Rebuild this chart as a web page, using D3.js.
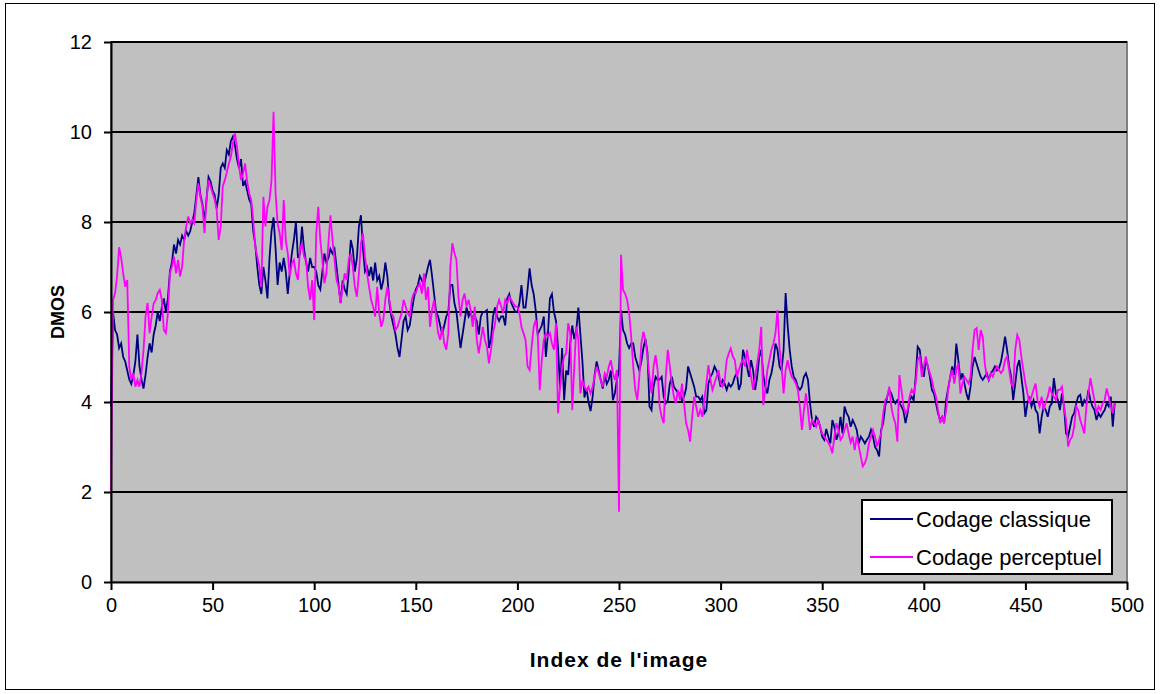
<!DOCTYPE html>
<html>
<head>
<meta charset="utf-8">
<script src="https://cdnjs.cloudflare.com/ajax/libs/d3/7.8.5/d3.min.js"></script>
<style>
  html, body { margin: 0; padding: 0; background: #fff; }
  svg { display: block; }
  text { font-family: "Liberation Sans", Arial, sans-serif; }
</style>
</head>
<body>
<svg id="chart" width="1161" height="694"></svg>
<script>
// ---- data ----
const yTicks = [0, 2, 4, 6, 8, 10, 12];
const xTicks = [0, 50, 100, 150, 200, 250, 300, 350, 400, 450, 500];
const seriesNames = ["Codage classique", "Codage perceptuel"];
const seriesColors = ["#000080", "#ff00ff"];

const classique = [
3.9,6.0,5.6,5.5,5.2,5.3,5.0,4.9,4.7,4.5,
4.4,4.6,4.9,5.5,4.8,4.5,4.3,4.6,5.0,5.3,
5.1,5.5,5.7,6.0,5.8,6.1,6.3,6.0,6.3,6.9,
7.1,7.5,7.3,7.6,7.5,7.7,7.6,7.8,7.7,7.8,
8.0,8.2,8.6,9.0,8.6,8.4,8.0,8.5,9.0,8.9,
8.7,8.6,8.3,8.6,9.2,9.3,9.2,9.6,9.5,9.8,
9.9,9.7,9.4,9.2,9.4,8.8,8.9,8.7,8.5,8.4,
7.8,7.5,7.0,6.6,6.4,7.0,6.7,6.3,7.2,7.8,
8.1,7.4,6.6,7.1,6.9,7.2,6.9,6.4,6.9,7.3,
7.6,8.0,7.2,7.3,7.9,7.4,7.1,6.9,7.2,7.0,
7.0,6.9,6.6,6.5,6.9,7.3,7.1,7.2,7.4,7.3,
7.4,7.0,6.6,6.2,6.7,6.5,6.4,6.9,7.6,7.4,
6.9,7.2,7.9,8.15,7.4,6.9,7.0,6.8,7.0,6.7,
7.1,6.7,6.8,6.5,6.7,7.1,6.8,6.2,5.9,5.7,
5.5,5.2,5.0,5.4,5.8,5.9,5.6,5.7,6.0,6.3,
6.5,6.6,6.8,6.7,6.6,6.8,7.0,7.16,6.8,6.4,
6.0,5.9,5.7,5.5,5.7,5.9,6.0,6.6,6.6,6.2,
6.0,5.6,5.2,5.5,5.8,6.1,5.9,6.0,5.8,5.9,
5.8,5.5,5.9,6.0,6.0,6.04,5.2,5.4,5.9,6.1,
5.9,5.8,5.9,5.9,5.7,6.3,6.4,6.2,6.1,6.0,
6.0,6.2,6.6,6.1,6.1,6.5,6.97,6.6,6.4,6.04,
5.5,5.6,5.7,5.9,5.0,5.5,6.3,6.4,6.0,5.8,
5.2,4.3,5.2,4.04,4.7,4.6,5.3,5.7,5.4,5.6,
6.1,5.5,4.9,4.1,4.3,4.0,3.8,4.1,4.6,4.9,
4.7,4.5,4.3,4.6,4.4,4.5,4.7,4.04,4.2,4.5,
4.7,6.04,5.6,5.5,5.3,5.2,5.3,5.3,5.0,4.85,
4.7,4.9,5.2,5.4,5.1,3.9,3.82,4.34,4.56,4.49,
4.5,4.56,4.12,3.97,4.04,4.4,4.56,4.34,4.27,4.2,
4.19,4.04,4.12,4.3,4.79,4.64,4.49,4.34,4.12,4.12,
4.04,4.12,3.75,3.82,4.41,4.56,4.64,4.79,4.7,4.56,
4.34,4.49,4.41,4.27,4.41,4.34,4.41,4.56,4.64,4.27,
4.41,5.16,5.0,4.79,4.56,4.93,4.7,4.27,4.56,5.0,
5.16,4.6,4.34,4.19,4.49,4.64,4.9,5.3,5.16,4.79,
4.7,5.16,6.42,5.7,5.16,4.79,4.56,4.49,4.34,4.27,
4.34,4.56,4.64,4.49,3.97,3.6,3.45,3.67,3.6,3.45,
3.23,3.16,3.4,3.23,3.08,3.6,3.45,3.16,3.3,3.67,
3.3,3.9,3.75,3.67,3.45,3.6,3.5,3.38,3.08,3.23,
3.16,3.08,3.16,3.23,3.38,3.23,3.0,2.93,2.79,3.38,
3.53,3.9,4.12,4.27,4.19,4.04,3.97,4.04,3.97,3.9,
3.8,3.53,3.75,4.04,4.12,4.04,4.56,5.23,5.16,4.79,
4.56,4.93,4.79,4.56,4.27,4.19,3.97,3.75,3.6,3.67,
3.53,4.04,4.3,4.56,4.79,4.6,5.3,4.93,4.49,4.64,
4.41,4.19,4.04,4.34,4.79,5.0,4.85,4.7,4.56,4.49,
4.56,4.64,4.49,4.64,4.7,4.79,4.7,4.75,4.9,5.16,
5.45,5.16,4.79,4.56,4.04,4.41,4.79,4.93,4.56,4.19,
3.67,3.97,4.12,3.9,4.04,3.82,3.75,3.3,3.67,3.9,
3.82,3.67,3.9,3.97,4.53,4.19,4.04,3.82,4.19,3.9,
3.3,3.23,3.45,3.67,3.75,3.97,4.12,4.16,3.9,4.04,
3.97,4.27,4.04,3.9,3.82,3.6,3.75,3.67,3.75,3.82,
3.97,3.9,4.12,3.45,4.0
];

const perceptuel = [
2.0,6.27,6.42,6.8,7.44,7.2,6.86,6.56,6.71,4.78,
4.49,4.64,4.34,4.49,4.34,4.64,5.15,5.9,6.2,5.53,
5.9,6.19,6.27,6.42,6.49,6.27,5.6,5.53,5.97,6.86,
7.01,7.23,6.86,7.16,6.79,7.01,7.6,7.9,8.12,7.97,
8.05,7.97,8.49,8.86,8.56,8.34,7.75,8.49,8.93,8.79,
8.64,8.5,8.27,7.6,7.9,8.79,8.93,9.1,9.3,9.45,
9.75,9.97,9.67,9.23,8.93,9.08,9.3,8.9,8.64,8.49,
8.05,7.45,7.23,7.01,6.56,8.56,7.9,8.34,8.49,8.93,
10.45,8.64,7.97,7.75,7.38,8.49,7.6,7.3,6.79,7.08,
7.16,6.86,6.71,7.38,7.53,7.23,7.16,6.56,6.27,6.71,
5.82,7.75,8.34,7.6,7.16,6.64,6.86,7.53,8.15,7.6,
7.16,6.71,6.56,6.19,6.56,6.86,6.71,7.16,7.3,7.01,
6.56,6.34,6.86,7.53,7.75,7.23,6.86,6.56,6.27,6.12,
5.9,6.56,5.97,5.67,5.82,6.27,6.56,6.27,5.97,5.9,
5.6,5.67,5.82,5.97,6.27,6.12,5.97,5.9,6.27,6.42,
6.42,6.56,6.64,6.41,6.86,6.27,6.56,5.67,6.04,6.27,
5.9,5.53,5.38,5.67,5.3,5.16,5.53,7.01,7.53,7.31,
7.16,6.34,5.9,6.27,6.41,6.12,6.27,6.04,5.67,6.12,
5.38,5.08,5.38,5.67,5.38,5.23,4.86,5.16,5.53,5.75,
6.12,6.27,6.12,5.97,6.27,6.19,6.34,6.27,6.19,6.12,
6.12,5.97,5.67,5.53,5.38,4.79,4.71,5.23,5.67,5.82,
5.53,4.26,4.93,5.38,5.53,5.45,5.53,5.3,5.16,5.75,
3.75,4.34,4.79,5.01,5.08,5.75,5.53,3.82,4.79,5.67,
5.38,4.19,4.49,4.34,4.26,4.34,4.19,4.34,4.56,4.79,
4.64,4.49,4.34,4.64,4.56,4.79,4.93,4.64,4.49,4.71,
1.56,7.27,6.49,6.41,6.27,5.97,5.45,4.79,4.27,4.04,
4.56,5.3,5.56,5.38,5.01,4.56,4.19,4.79,5.04,4.71,
3.9,3.67,3.53,4.56,5.16,4.79,4.41,4.12,3.97,4.27,
4.04,4.41,3.97,3.53,3.38,3.12,3.67,4.12,3.9,3.67,
3.82,3.67,4.04,4.41,4.82,4.49,4.27,4.41,4.56,4.71,
4.41,4.34,4.49,4.93,5.08,5.19,5.01,4.93,4.56,4.71,
4.86,4.93,4.79,5.16,4.86,4.56,4.27,4.56,4.86,5.16,
5.67,3.93,4.27,4.71,4.93,5.16,5.3,5.53,6.04,5.2,
4.79,4.19,4.71,4.93,4.71,4.56,4.5,4.41,4.27,3.9,
3.38,3.82,4.19,3.82,3.38,3.6,3.53,3.45,3.6,3.45,
3.3,3.23,3.16,3.1,3.01,2.86,3.23,3.53,3.38,3.16,
3.23,3.38,3.53,3.3,3.1,3.23,2.93,3.23,3.01,2.79,
2.57,2.64,2.79,3.08,3.23,3.38,3.23,3.01,3.16,3.3,
3.75,4.04,4.12,4.34,3.9,3.67,3.53,3.12,4.6,4.27,
3.9,3.75,3.82,4.12,4.27,4.19,4.41,4.93,5.01,4.56,
4.79,5.01,4.79,4.64,4.49,4.27,4.12,3.82,3.53,3.67,
3.53,3.82,4.27,4.56,4.71,4.41,4.71,4.86,4.19,4.41,
4.56,4.49,4.41,4.56,5.16,5.6,5.64,5.16,5.6,5.45,
4.86,4.56,4.49,4.64,4.56,4.71,4.79,4.71,4.64,4.71,
4.93,5.01,4.71,4.41,4.34,5.16,5.49,5.38,5.01,4.71,
4.41,4.19,3.97,4.12,4.27,4.41,4.04,3.9,4.12,3.82,
4.0,4.12,4.34,4.19,4.12,4.04,4.27,4.27,4.34,3.9,
3.6,3.01,3.16,3.23,3.45,3.9,3.82,3.6,3.45,3.3,
3.9,4.19,4.53,4.27,4.04,3.75,3.9,3.82,3.97,4.04,
4.3,4.12,3.9,3.75,3.97
];

// ---- layout ----
const plot = { left: 111, top: 42, right: 1127, bottom: 582 };
const svg = d3.select("#chart");

const x = d3.scaleLinear().domain([0, 500]).range([plot.left, plot.right]);
const y = d3.scaleLinear().domain([0, 12]).range([plot.bottom, plot.top]);

// outer frame
svg.append("rect").attr("x", 5.5).attr("y", 3.5).attr("width", 1149).attr("height", 686)
  .attr("fill", "#fff").attr("stroke", "#000").attr("stroke-width", 1);

// plot area
svg.append("rect").attr("x", plot.left).attr("y", plot.top)
  .attr("width", plot.right - plot.left).attr("height", plot.bottom - plot.top)
  .attr("fill", "#c0c0c0").attr("stroke", "#808080").attr("stroke-width", 2);

// gridlines
svg.append("g").selectAll("line").data(yTicks.filter(d => d > 0)).join("line")
  .attr("x1", plot.left).attr("x2", plot.right)
  .attr("y1", d => y(d)).attr("y2", d => y(d))
  .attr("stroke", "#000").attr("stroke-width", 2);

// series
const idx = d3.range(classique.length);
const line = d3.line().x(i => x(i));
[classique, perceptuel].forEach((vals, k) => {
  svg.append("path")
    .attr("d", line.y(i => y(vals[i]))(idx))
    .attr("fill", "none").attr("stroke", seriesColors[k])
    .attr("stroke-width", 1.8).attr("stroke-linejoin", "miter");
});

// axes
const yAxis = svg.append("g").attr("transform", `translate(${plot.left},0)`)
  .call(d3.axisLeft(y).tickValues(yTicks).tickSize(7).tickPadding(12).tickSizeOuter(0));
const xAxis = svg.append("g").attr("transform", `translate(0,${plot.bottom})`)
  .call(d3.axisBottom(x).tickValues(xTicks).tickSize(8).tickPadding(8).tickSizeOuter(0));
[yAxis, xAxis].forEach(g => {
  g.select(".domain").attr("stroke", "#000").attr("stroke-width", 2);
  g.selectAll(".tick line").attr("stroke", "#000").attr("stroke-width", 2);
  g.selectAll(".tick text").attr("fill", "#000").style("font-size", "20px")
    .style("font-family", "'Liberation Sans', Arial, sans-serif");
});

// axis titles
svg.append("text").attr("transform", `translate(64,${(plot.top + plot.bottom) / 2}) rotate(-90)`)
  .attr("text-anchor", "middle").style("font-size", "18px").style("font-weight", "bold")
  .text("DMOS");
svg.append("text").attr("x", (plot.left + plot.right) / 2).attr("y", 667)
  .attr("text-anchor", "middle").style("font-size", "21px").style("font-weight", "bold")
  .style("letter-spacing", "1px")
  .text("Index de l'image");

// legend
const lg = svg.append("g").attr("transform", "translate(862,500)");
lg.append("rect").attr("width", 250).attr("height", 74)
  .attr("fill", "#fff").attr("stroke", "#000").attr("stroke-width", 2);
seriesNames.forEach((name, k) => {
  const cy = 19 + k * 38;
  lg.append("line").attr("x1", 8).attr("x2", 51).attr("y1", cy).attr("y2", cy)
    .attr("stroke", seriesColors[k]).attr("stroke-width", 2);
  lg.append("text").attr("x", 54).attr("y", cy).attr("dy", "0.35em")
    .style("font-size", "22px").text(name);
});
</script>
</body>
</html>
